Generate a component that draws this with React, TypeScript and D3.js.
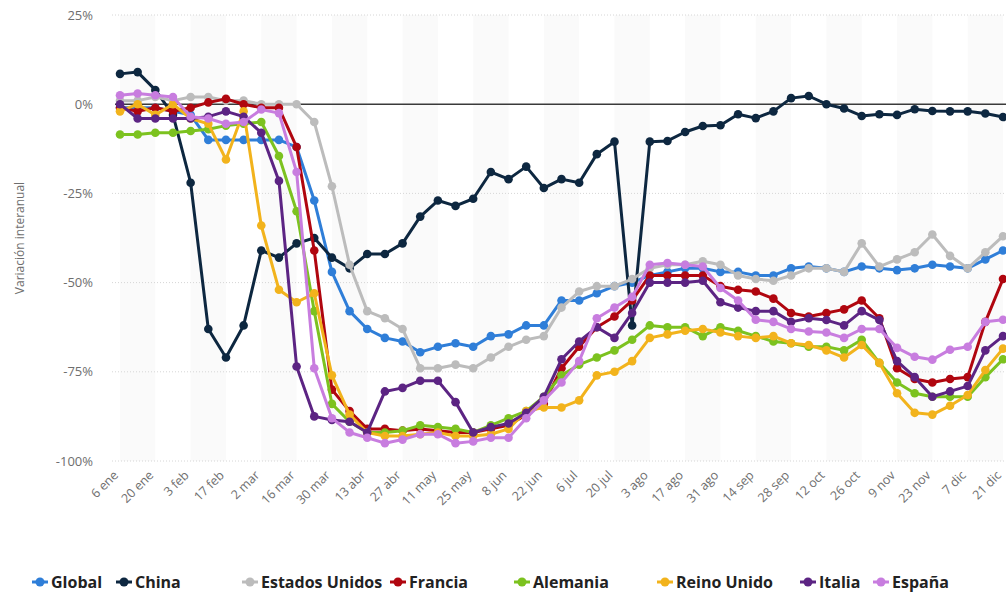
import React from "react";
import * as d3 from "d3";

const tickLabels = ["6 ene","20 ene","3 feb","17 feb","2 mar","16 mar","30 mar","13 abr","27 abr","11 may","25 may","8 jun","22 jun","6 jul","20 jul","3 ago","17 ago","31 ago","14 sep","28 sep","12 oct","26 oct","9 nov","23 nov","7 dic","21 dic"];
const yTicks = [25, 0, -25, -50, -75, -100];

const globalS = [-1,-1,-1,-2,-3,-10,-10,-10,-10,-10, -12,-27,-47,-58,-63,-65.5,-66.5,-69.5,-68,-67, -68,-65,-64.5,-62,-62,-55,-55,-53,-51,-50, -48,-47,-46,-46,-47,-47,-48,-48,-46,-45.5, -46,-47,-45.5,-46,-46.5,-46,-45,-45.5,-46,-43.5, -41];
const chinaS = [8.5,9,4,-3,-22,-63,-71,-62,-41,-43, -39,-37.5,-43,-46,-42,-42,-39,-31.5,-27,-28.5, -26.5,-19,-21,-17.5,-23.5,-21,-22,-14,-10.5,-62, -10.5,-10.3,-7.8,-6.1,-5.9,-2.8,-3.9,-2,1.7,2.3, 0,-1.2,-3.3,-2.8,-3,-1.4,-1.9,-2,-2,-2.6, -3.6];
const usaS = [1,1,2,1,2,2,1,1,0,0, 0,-5,-23,-45,-58,-60,-63,-74,-74,-73, -74,-71,-68,-66,-65,-57,-52.5,-51,-51,-49, -46,-45,-45,-44,-45,-48,-49,-49.5,-48,-46, -46,-47,-39,-45.5,-43.5,-41.5,-36.5,-42.5,-46,-41.5, -37];
const franciaS = [-1,-2,-1,-2,-1,0.5,1.5,0,-1,-1, -12,-41,-80,-86,-91,-91,-91.5,-91,-91.5,-92, -92,-91,-90,-87,-84,-74,-68,-62.5,-59.5,-55, -48,-48,-48,-48,-51,-52,-52.5,-54.5,-58.5,-59.5, -58.5,-57.5,-55,-60,-74,-77,-78,-77,-76.5,-61, -49];
const alemaniaS = [-8.5,-8.5,-8,-8,-7.5,-7,-6,-5.5,-5,-14.5, -30,-58,-84,-89,-92,-92,-91.5,-90,-90.5,-91, -92,-90,-88,-86,-82,-76,-73,-71,-69,-66, -62,-62.5,-62.5,-65,-62.5,-63.5,-65,-66.5,-67,-68, -68,-69,-66,-72.5,-78,-81,-82,-82,-82,-76.5, -71.5];
const reinoS = [-2,0,-3,0,-4,-5.5,-15.5,-2,-34,-52, -55.5,-53,-76,-87,-92,-93,-93,-92.5,-92,-93, -93,-92.5,-91,-86,-85,-85,-83,-76,-75,-72, -65.5,-64.5,-63.5,-63,-64,-65,-65.5,-65,-67,-67.5, -69,-71,-67.5,-72.5,-81,-86.5,-87,-84.5,-81.5,-74.5, -68.5];
const italiaS = [0,-4,-4,-4,-4,-3.5,-2,-3.5,-8,-21.5, -73.5,-87.5,-88.5,-89,-92,-80.5,-79.5,-77.5,-77.5,-83.5, -92,-90.5,-89.5,-86.5,-82,-71.5,-66.5,-62.5,-65.5,-58.5, -50,-50,-50,-49.5,-55.5,-57,-58,-58,-61,-60, -60.5,-62,-58,-60.5,-72,-76.5,-82,-80.5,-79,-69, -65];
const espanaS = [2.5,3,2.5,2,-3.5,-4,-5.5,-5,-1.5,-2.5, -19,-74,-88,-92,-93.5,-95,-94,-92.5,-92.5,-95, -94.5,-93.5,-93.5,-88,-83,-78,-72,-60,-57,-54, -45,-44.5,-45,-45.5,-51.5,-55,-60.4,-61,-63,-63.7, -64,-65.5,-63,-63,-68.3,-70.8,-71.6,-68.8,-68,-61, -60.4];

const seriesNames = ["Global","China","Estados Unidos","Francia","Alemania","Reino Unido","Italia","España"];
const seriesColors = ["#2f7ed8","#0d2740","#bcbcbc","#b0060f","#7cc21f","#f2b31c","#5c2483","#c87ddf"];
const seriesData = [globalS, chinaS, usaS, franciaS, alemaniaS, reinoS, italiaS, espanaS];
const legendX = [40, 124, 250, 398, 522, 665, 808, 881];

const W = 1006, H = 594;
const FONT = "'Open Sans', 'DejaVu Sans', sans-serif";

export default function App() {
  const n = globalS.length;
  const x = d3.scaleLinear().domain([0, n - 1]).range([120, 1003]);
  const y = d3.scaleLinear().domain([-100, 25]).range([461, 15]);
  const line = d3.line<number>().x((_, i) => x(i)).y((d) => y(d));
  const bands = d3.range(0, n - 1, 4);

  return (
    <div style={{ position: "absolute", left: 0, top: 0 }}>
      <svg width={W} height={H} style={{ display: "block", background: "#fff" }}>
        {bands.map((b) => (
          <rect key={b} x={x(b)} y={y(25)} width={x(Math.min(b + 2, n - 1)) - x(b)} height={y(-100) - y(25)} fill="#fafafa" />
        ))}
        {yTicks.filter((t) => t !== 0).map((t) => (
          <line key={t} x1={112} x2={W} y1={y(t)} y2={y(t)} stroke="#d6d6d6" strokeWidth={1} strokeDasharray="1,2" />
        ))}
        <line x1={115} x2={W} y1={y(0)} y2={y(0)} stroke="#3a3a3a" strokeWidth={1.5} />
        {yTicks.map((t) => (
          <text key={t} x={93} y={y(t) + 4.5} textAnchor="end" fontFamily={FONT} fontSize={13} fill="#6e6e6e">{`${t}%`}</text>
        ))}
        <text transform={`translate(24,${(y(25) + y(-100)) / 2}) rotate(-90)`} textAnchor="middle" fontFamily={FONT} fontSize={12} fill="#6e6e6e">Variación interanual</text>
        {tickLabels.map((lab, j) => (
          <text key={lab} transform={`translate(${x(j * 2) - 1},476) rotate(-45)`} textAnchor="end" fontFamily={FONT} fontSize={12.5} fill="#6e6e6e">{lab}</text>
        ))}
        {seriesData.map((s, k) => (
          <g key={seriesNames[k]}>
            <path d={line(s) || ""} fill="none" stroke={seriesColors[k]} strokeWidth={3} strokeLinejoin="round" />
            {s.map((v, i) => (
              <circle key={i} cx={x(i)} cy={y(v)} r={4.3} fill={seriesColors[k]} />
            ))}
          </g>
        ))}
        {seriesNames.map((nm, k) => (
          <g key={nm} transform={`translate(${legendX[k]},582)`}>
            <line x1={-8} x2={8} y1={0} y2={0} stroke={seriesColors[k]} strokeWidth={3} />
            <circle cx={0} cy={0} r={4.5} fill={seriesColors[k]} />
            <text x={11} y={5.5} fontFamily={FONT} fontSize={16} fontWeight="bold" fill="#222">{nm}</text>
          </g>
        ))}
      </svg>
    </div>
  );
}
